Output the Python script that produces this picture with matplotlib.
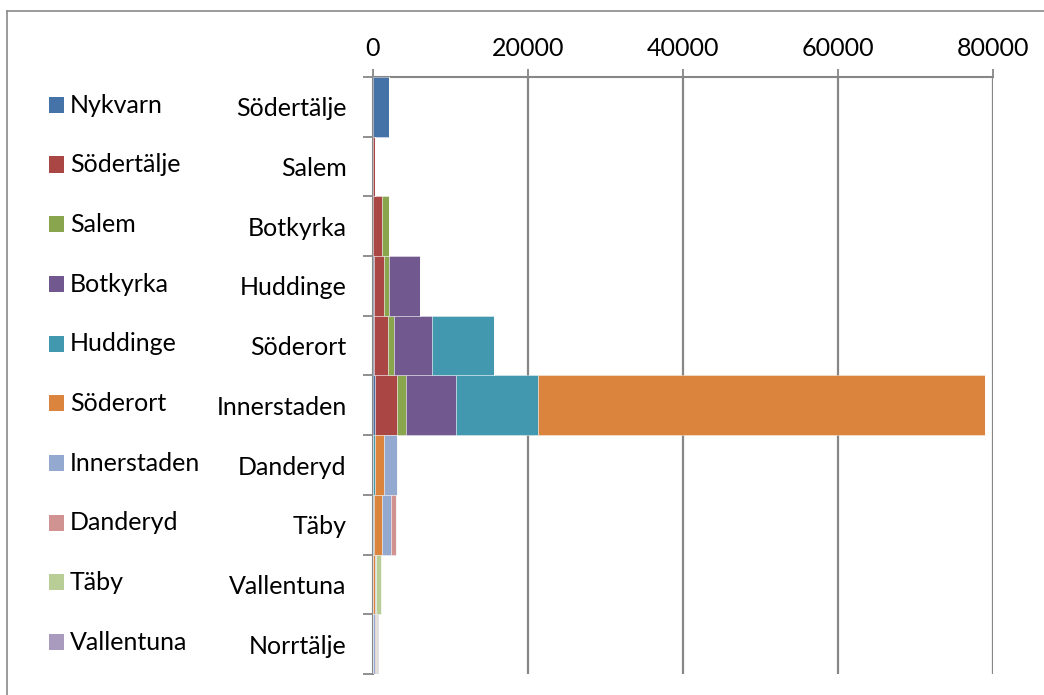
import matplotlib
matplotlib.use("Agg")
import matplotlib.pyplot as plt
from matplotlib.patches import Rectangle
from matplotlib.lines import Line2D
from matplotlib.transforms import blended_transform_factory
import numpy as np

plt.rcParams['font.family'] = ['Lato', 'DejaVu Sans']

categories = ["Södertälje", "Salem", "Botkyrka", "Huddinge", "Söderort",
              "Innerstaden", "Danderyd", "Täby", "Vallentuna", "Norrtälje"]

series_names = ["Nykvarn", "Södertälje", "Salem", "Botkyrka", "Huddinge",
                "Söderort", "Innerstaden", "Danderyd", "Täby", "Vallentuna"]

nykvarn     = [2070, 0, 0, 80, 80, 300, 0, 0, 0, 0]
sodertalje  = [0, 250, 1180, 1380, 1800, 2790, 0, 0, 0, 0]
salem       = [0, 0, 880, 600, 860, 1210, 0, 0, 0, 0]
botkyrka    = [0, 0, 0, 4010, 4900, 6400, 0, 0, 0, 0]
huddinge    = [0, 0, 0, 0, 8000, 10580, 300, 150, 50, 0]
soderort    = [0, 0, 0, 0, 0, 57700, 1100, 1000, 150, 50]
innerstaden = [0, 0, 0, 0, 0, 0, 1730, 1200, 200, 200]
danderyd    = [0, 0, 0, 0, 0, 0, 0, 610, 0, 100]
taby        = [0, 0, 0, 0, 0, 0, 0, 0, 630, 150]
vallentuna  = [0, 0, 0, 0, 0, 0, 0, 0, 0, 200]

series_values = [nykvarn, sodertalje, salem, botkyrka, huddinge,
                 soderort, innerstaden, danderyd, taby, vallentuna]

xticks = [0, 20000, 40000, 60000, 80000]

colors = ["#4572A7", "#AA4643", "#89A54E", "#71588F", "#4198AF",
          "#DB843D", "#93A9CF", "#D19392", "#B9CD96", "#A99BBD"]

FS = 18

W, H = 1044, 695
fig = plt.figure(figsize=(W / 100, H / 100), dpi=100)
ax = fig.add_axes([373 / W, 1 - 674 / H, (993 - 373) / W, (674 - 77) / H])

y = np.arange(len(categories))
left = np.zeros(len(categories))
for name, vals, c in zip(series_names, series_values, colors):
    vals = np.array(vals, dtype=float)
    ax.barh(y, vals, left=left, height=1.0, color=c, edgecolor=(1, 1, 1, 0.45),
            linewidth=0.6, label=name, zorder=3)
    left += vals

ax.set_xlim(xticks[0], xticks[-1])
ax.set_ylim(len(categories) - 0.5, -0.5)

gridcol = "#878787"
ax.xaxis.tick_top()
ax.set_xticks(xticks)
ax.set_xticklabels([str(t) for t in xticks])
ax.tick_params(axis='x', which='major', direction='out', length=5.5, width=1.3,
               color=gridcol, labelsize=FS, pad=7, labelcolor='black')
ax.grid(axis='x', color=gridcol, linewidth=1.6, zorder=0)
ax.set_axisbelow(True)

ax.set_yticks(np.arange(len(categories) + 1) - 0.5)
ax.set_yticklabels([])
ax.set_yticks(y, minor=True)
ax.set_yticklabels(categories, minor=True)
ax.tick_params(axis='y', which='major', direction='out', length=7.5, width=1.3, color=gridcol)
ax.tick_params(axis='y', which='minor', length=0, pad=19, labelsize=FS, labelcolor='black')

for s in ['right', 'bottom']:
    ax.spines[s].set_visible(False)
for s in ['top', 'left']:
    ax.spines[s].set_color(gridcol)
    ax.spines[s].set_linewidth(1.5)

# legend drawn manually, rows aligned with categories
trans = blended_transform_factory(fig.transFigure, ax.transData)
for i, (name, c) in enumerate(zip(series_names, colors)):
    ax.add_patch(Rectangle((49 / W, i + 0.10), 15 / W, -0.27, transform=trans,
                           facecolor=c, edgecolor='none', clip_on=False))
    ax.text(70 / W, i - 0.03, name, transform=trans, fontsize=FS, va='center', ha='left',
            clip_on=False)

# outer chart border (partially cropped)
fig.add_artist(Line2D([7 / W, 1.0], [1 - 11 / H, 1 - 11 / H], color="#8a8a8a", linewidth=1.2))
fig.add_artist(Line2D([7 / W, 7 / W], [0.0, 1 - 11 / H], color="#8a8a8a", linewidth=1.2))

fig.savefig("out.png", dpi=100)
